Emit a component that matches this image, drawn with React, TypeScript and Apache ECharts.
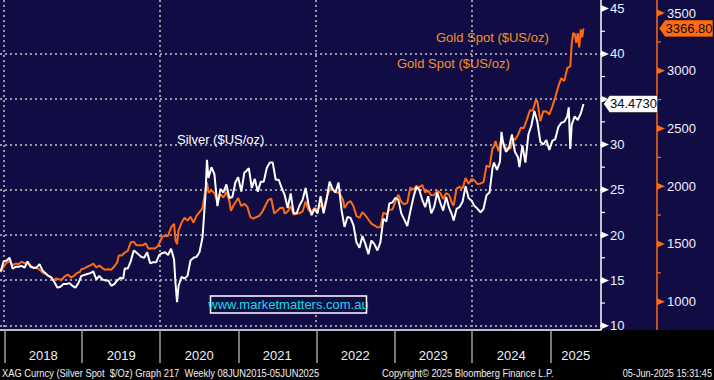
import { useEffect, useRef } from "react";
import * as echarts from "echarts";

// ---------- data ----------
const xRange: [string, string] = ["2017-12-12", "2025-08-26"];
const yearStarts = ["2018-01-01", "2019-01-01", "2020-01-01", "2021-01-01", "2022-01-01", "2023-01-01", "2024-01-01", "2025-01-01"];
const gridYears = ["2018-01-01", "2020-01-01", "2022-01-01", "2024-01-01"];
const silverTicks = [10, 15, 20, 25, 30, 35, 40, 45];
const silverGrid = [10, 15, 20, 25, 30, 35, 40];
const goldTicks = [1000, 1500, 2000, 2500, 3000, 3500];

const silver: [string, number][] = [
  ["2017-12-15", 16.0], ["2017-12-29", 17.1], ["2018-01-12", 17.2], ["2018-01-26", 17.5], ["2018-02-09", 16.3], ["2018-02-23", 16.5],
  ["2018-03-09", 16.5], ["2018-03-23", 16.6], ["2018-04-06", 16.4], ["2018-04-20", 17.1], ["2018-05-04", 16.5], ["2018-05-18", 16.4],
  ["2018-06-01", 16.4], ["2018-06-15", 16.8], ["2018-06-29", 16.1], ["2018-07-13", 15.8], ["2018-07-27", 15.5], ["2018-08-10", 15.3],
  ["2018-08-24", 14.8], ["2018-09-07", 14.2], ["2018-09-21", 14.3], ["2018-10-05", 14.6], ["2018-10-19", 14.6], ["2018-11-02", 14.7],
  ["2018-11-16", 14.4], ["2018-11-30", 14.2], ["2018-12-14", 14.7], ["2018-12-28", 15.5], ["2019-01-11", 15.6], ["2019-01-25", 15.7],
  ["2019-02-08", 15.8], ["2019-02-22", 16.0], ["2019-03-08", 15.1], ["2019-03-22", 15.5], ["2019-04-05", 15.1], ["2019-04-19", 15.0],
  ["2019-05-03", 15.0], ["2019-05-17", 14.4], ["2019-05-31", 14.6], ["2019-06-14", 15.0], ["2019-06-28", 15.3], ["2019-07-12", 15.2],
  ["2019-07-19", 16.3], ["2019-08-02", 16.3], ["2019-08-16", 17.1], ["2019-08-30", 18.3], ["2019-09-06", 18.2], ["2019-09-20", 17.9],
  ["2019-10-04", 17.6], ["2019-10-18", 17.5], ["2019-11-01", 18.1], ["2019-11-15", 16.9], ["2019-11-29", 17.0], ["2019-12-13", 17.0],
  ["2019-12-27", 17.8], ["2020-01-10", 18.0], ["2020-01-24", 18.1], ["2020-02-07", 17.8], ["2020-02-21", 18.5], ["2020-03-06", 17.3],
  ["2020-03-13", 14.6], ["2020-03-20", 12.6], ["2020-03-27", 14.4], ["2020-04-10", 15.4], ["2020-04-24", 15.2], ["2020-05-08", 15.5],
  ["2020-05-22", 17.2], ["2020-06-05", 17.5], ["2020-06-19", 17.6], ["2020-07-03", 18.1], ["2020-07-17", 19.7], ["2020-07-31", 24.4],
  ["2020-08-07", 28.3], ["2020-08-14", 26.3], ["2020-08-28", 27.5], ["2020-09-11", 26.7], ["2020-09-25", 23.2], ["2020-10-09", 25.1],
  ["2020-10-23", 24.7], ["2020-11-06", 25.6], ["2020-11-20", 24.1], ["2020-12-04", 24.2], ["2020-12-18", 25.8], ["2020-12-31", 26.4],
  ["2021-01-15", 24.8], ["2021-01-29", 26.9], ["2021-02-05", 27.0], ["2021-02-19", 27.4], ["2021-03-05", 25.2], ["2021-03-19", 26.2],
  ["2021-04-02", 24.8], ["2021-04-16", 25.9], ["2021-04-30", 25.9], ["2021-05-14", 27.4], ["2021-05-28", 28.0], ["2021-06-11", 28.0],
  ["2021-06-25", 26.1], ["2021-07-09", 26.1], ["2021-07-23", 25.2], ["2021-08-06", 24.4], ["2021-08-20", 23.0], ["2021-09-03", 24.6],
  ["2021-09-17", 22.4], ["2021-10-01", 22.4], ["2021-10-15", 23.3], ["2021-10-29", 23.9], ["2021-11-12", 25.2], ["2021-11-26", 23.3],
  ["2021-12-10", 22.2], ["2021-12-24", 22.9], ["2022-01-07", 22.4], ["2022-01-21", 24.3], ["2022-02-04", 22.4], ["2022-02-18", 23.9],
  ["2022-03-04", 25.9], ["2022-03-18", 25.1], ["2022-04-01", 24.7], ["2022-04-15", 25.8], ["2022-04-29", 22.8], ["2022-05-13", 20.9],
  ["2022-05-27", 22.0], ["2022-06-10", 21.9], ["2022-06-24", 21.1], ["2022-07-08", 19.2], ["2022-07-22", 18.6], ["2022-08-05", 19.9],
  ["2022-08-19", 19.0], ["2022-09-02", 17.9], ["2022-09-16", 19.4], ["2022-09-30", 19.0], ["2022-10-14", 18.3], ["2022-10-28", 19.2],
  ["2022-11-11", 21.8], ["2022-11-25", 21.5], ["2022-12-09", 23.5], ["2022-12-23", 23.6], ["2023-01-06", 24.1], ["2023-01-20", 23.9],
  ["2023-02-03", 22.4], ["2023-02-17", 21.7], ["2023-03-03", 21.0], ["2023-03-17", 22.6], ["2023-03-31", 24.1], ["2023-04-14", 25.3],
  ["2023-04-28", 25.0], ["2023-05-12", 23.9], ["2023-05-26", 23.1], ["2023-06-09", 24.3], ["2023-06-23", 22.4], ["2023-07-07", 23.1],
  ["2023-07-21", 24.7], ["2023-08-04", 23.6], ["2023-08-18", 22.7], ["2023-09-01", 24.2], ["2023-09-15", 23.0], ["2023-09-29", 22.2],
  ["2023-10-06", 21.6], ["2023-10-20", 22.9], ["2023-11-03", 23.1], ["2023-11-17", 23.7], ["2023-12-01", 25.4], ["2023-12-15", 24.1],
  ["2023-12-29", 23.8], ["2024-01-12", 23.2], ["2024-01-26", 22.9], ["2024-02-09", 22.5], ["2024-02-23", 22.9], ["2024-03-08", 24.4],
  ["2024-03-22", 24.7], ["2024-04-05", 27.4], ["2024-04-12", 28.0], ["2024-04-26", 27.2], ["2024-05-10", 28.1], ["2024-05-17", 31.4],
  ["2024-05-24", 30.3], ["2024-06-07", 29.2], ["2024-06-21", 29.6], ["2024-07-05", 31.1], ["2024-07-19", 29.2], ["2024-08-02", 28.6],
  ["2024-08-09", 27.5], ["2024-08-23", 29.9], ["2024-09-06", 28.0], ["2024-09-20", 31.1], ["2024-10-04", 32.1], ["2024-10-18", 33.7],
  ["2024-11-01", 32.5], ["2024-11-15", 30.3], ["2024-11-29", 30.0], ["2024-12-13", 30.5], ["2024-12-27", 29.4], ["2025-01-10", 30.4],
  ["2025-01-24", 30.6], ["2025-02-07", 31.9], ["2025-02-21", 32.4], ["2025-03-07", 32.5], ["2025-03-21", 33.1], ["2025-03-28", 34.1],
  ["2025-04-04", 29.5], ["2025-04-11", 32.2], ["2025-04-25", 33.1], ["2025-05-09", 32.7], ["2025-05-23", 33.4], ["2025-06-05", 34.473],
];

const gold: [string, number][] = [
  ["2017-12-15", 1257], ["2017-12-29", 1303], ["2018-01-12", 1338], ["2018-01-26", 1350], ["2018-02-09", 1316], ["2018-02-23", 1330],
  ["2018-03-09", 1324], ["2018-03-23", 1347], ["2018-04-06", 1332], ["2018-04-20", 1336], ["2018-05-04", 1314], ["2018-05-18", 1291],
  ["2018-06-01", 1294], ["2018-06-15", 1278], ["2018-06-29", 1252], ["2018-07-13", 1241], ["2018-07-27", 1223], ["2018-08-10", 1212],
  ["2018-08-17", 1184], ["2018-08-31", 1201], ["2018-09-14", 1194], ["2018-09-28", 1192], ["2018-10-12", 1222], ["2018-10-26", 1235],
  ["2018-11-09", 1209], ["2018-11-23", 1223], ["2018-12-07", 1248], ["2018-12-21", 1258], ["2018-12-28", 1281], ["2019-01-11", 1288],
  ["2019-01-25", 1303], ["2019-02-08", 1314], ["2019-02-22", 1329], ["2019-03-08", 1298], ["2019-03-22", 1313], ["2019-04-05", 1291],
  ["2019-04-19", 1276], ["2019-05-03", 1281], ["2019-05-17", 1277], ["2019-05-31", 1305], ["2019-06-14", 1341], ["2019-06-21", 1399],
  ["2019-07-05", 1400], ["2019-07-19", 1426], ["2019-08-02", 1440], ["2019-08-16", 1513], ["2019-08-30", 1520], ["2019-09-13", 1488],
  ["2019-09-27", 1489], ["2019-10-11", 1488], ["2019-10-25", 1505], ["2019-11-08", 1459], ["2019-11-22", 1462], ["2019-12-06", 1460],
  ["2019-12-20", 1478], ["2019-12-31", 1517], ["2020-01-10", 1562], ["2020-01-24", 1571], ["2020-02-07", 1570], ["2020-02-21", 1643],
  ["2020-03-06", 1674], ["2020-03-13", 1530], ["2020-03-20", 1498], ["2020-03-27", 1618], ["2020-04-10", 1683], ["2020-04-24", 1727],
  ["2020-05-08", 1702], ["2020-05-22", 1735], ["2020-06-05", 1685], ["2020-06-19", 1743], ["2020-07-03", 1775], ["2020-07-17", 1810],
  ["2020-07-31", 1975], ["2020-08-07", 2035], ["2020-08-14", 1944], ["2020-08-28", 1964], ["2020-09-11", 1941], ["2020-09-25", 1862],
  ["2020-10-09", 1930], ["2020-10-23", 1902], ["2020-11-06", 1951], ["2020-11-20", 1872], ["2020-11-27", 1788], ["2020-12-11", 1839],
  ["2020-12-24", 1877], ["2020-12-31", 1898], ["2021-01-15", 1828], ["2021-01-29", 1848], ["2021-02-12", 1823], ["2021-02-26", 1734],
  ["2021-03-12", 1719], ["2021-03-26", 1733], ["2021-04-09", 1744], ["2021-04-23", 1777], ["2021-05-07", 1831], ["2021-05-21", 1881],
  ["2021-06-04", 1891], ["2021-06-18", 1764], ["2021-07-02", 1787], ["2021-07-16", 1812], ["2021-07-30", 1814], ["2021-08-06", 1763],
  ["2021-08-20", 1781], ["2021-09-03", 1827], ["2021-09-17", 1754], ["2021-10-01", 1761], ["2021-10-15", 1768], ["2021-10-29", 1783],
  ["2021-11-12", 1868], ["2021-11-26", 1792], ["2021-12-10", 1783], ["2021-12-24", 1811], ["2022-01-07", 1797], ["2022-01-21", 1835],
  ["2022-02-04", 1808], ["2022-02-18", 1898], ["2022-03-04", 1970], ["2022-03-11", 1988], ["2022-03-25", 1958], ["2022-04-08", 1946],
  ["2022-04-22", 1932], ["2022-05-06", 1883], ["2022-05-13", 1811], ["2022-05-27", 1853], ["2022-06-10", 1871], ["2022-06-24", 1827],
  ["2022-07-08", 1742], ["2022-07-22", 1727], ["2022-08-05", 1775], ["2022-08-19", 1747], ["2022-09-02", 1712], ["2022-09-16", 1675],
  ["2022-09-30", 1661], ["2022-10-14", 1644], ["2022-10-28", 1645], ["2022-11-11", 1771], ["2022-11-25", 1755], ["2022-12-09", 1797],
  ["2022-12-23", 1798], ["2023-01-06", 1865], ["2023-01-20", 1926], ["2023-02-03", 1865], ["2023-02-17", 1842], ["2023-03-03", 1856],
  ["2023-03-17", 1989], ["2023-03-31", 1969], ["2023-04-14", 2004], ["2023-04-28", 1990], ["2023-05-12", 2011], ["2023-05-26", 1946],
  ["2023-06-09", 1961], ["2023-06-23", 1921], ["2023-07-07", 1925], ["2023-07-21", 1962], ["2023-08-04", 1943], ["2023-08-18", 1889],
  ["2023-09-01", 1940], ["2023-09-15", 1924], ["2023-09-29", 1849], ["2023-10-06", 1833], ["2023-10-20", 1981], ["2023-11-03", 1993],
  ["2023-11-17", 1981], ["2023-12-01", 2072], ["2023-12-15", 2020], ["2023-12-29", 2063], ["2024-01-12", 2049], ["2024-01-26", 2018],
  ["2024-02-09", 2024], ["2024-02-23", 2035], ["2024-03-08", 2179], ["2024-03-22", 2166], ["2024-04-05", 2329], ["2024-04-12", 2344],
  ["2024-04-19", 2392], ["2024-05-03", 2302], ["2024-05-17", 2415], ["2024-05-31", 2327], ["2024-06-14", 2333], ["2024-06-28", 2326],
  ["2024-07-12", 2411], ["2024-07-19", 2400], ["2024-08-02", 2443], ["2024-08-16", 2507], ["2024-08-30", 2503], ["2024-09-13", 2577],
  ["2024-09-27", 2658], ["2024-10-11", 2656], ["2024-10-25", 2747], ["2024-11-01", 2736], ["2024-11-15", 2563], ["2024-11-29", 2650],
  ["2024-12-13", 2648], ["2024-12-27", 2621], ["2025-01-10", 2689], ["2025-01-24", 2770], ["2025-02-07", 2861], ["2025-02-21", 2936],
  ["2025-03-07", 2910], ["2025-03-21", 3022], ["2025-04-04", 3037], ["2025-04-11", 3237], ["2025-04-18", 3327], ["2025-04-25", 3319],
  ["2025-05-02", 3241], ["2025-05-09", 3325], ["2025-05-16", 3203], ["2025-05-23", 3357], ["2025-05-30", 3289], ["2025-06-05", 3366.8],
];

const silverLabel = "Silver ($US/oz)";
const goldLabel = "Gold Spot ($US/oz)";
const silverLast = "34.4730";
const goldLast = "3366.80";
const watermark = "www.marketmatters.com.au";
const footerLeft = "XAG Curncy (Silver Spot  $/Oz) Graph 217  Weekly 08JUN2015-05JUN2025";
const footerMid = "Copyright\u00a9 2025 Bloomberg Finance L.P.";
const footerRight = "05-Jun-2025 15:31:45";

// ---------- styles ----------
const NAVY = "#110d44";
const ORANGE = "#ff6a13";
const GOLD_TEXT = "#f7901e";
const LABEL = "#eef2ff";
const GRID = "#9797a8";
const FONT = '"Liberation Sans", Arial, sans-serif';
const AXIS_GAP = 4.3;
const GOLD_OFFSET = 56;

const toTs = (s: string) => {
  const [y, m, d] = s.split("-").map(Number);
  return new Date(y, m - 1, d).getTime();
};

export default function App() {
  const ref = useRef<HTMLDivElement>(null);

  useEffect(() => {
    if (!ref.current) return;
    const chart = echarts.init(ref.current, undefined, { renderer: "svg" });
    const xMin = toTs(xRange[0]);
    const xMax = toTs(xRange[1]);
    const starts = yearStarts.map(toTs);
    const labelPos = starts.map((s, i) => {
      const e = i + 1 < starts.length ? starts[i + 1] : new Date(new Date(s).getFullYear() + 1, 0, 1).getTime();
      return (Math.max(s, xMin) + Math.min(e, xMax)) / 2;
    });
    const lastSilver = silver[silver.length - 1][1];

    chart.setOption({
      animation: false,
      backgroundColor: "#000000",
      grid: [
        { left: 0, right: 113, top: 8.6, bottom: 54.3 },
        { left: 0, right: 113, top: 13, bottom: 78.3 },
      ],
      xAxis: [
        {
          type: "value", gridIndex: 0, min: xMin, max: xMax, offset: AXIS_GAP,
          axisLine: { show: true, lineStyle: { color: "#ffffff", width: 1.5 } },
          axisTick: { show: true, customValues: starts, length: 33, lineStyle: { color: "#a0a0a0", width: 1.5 } },
          axisLabel: {
            customValues: labelPos, color: LABEL, fontSize: 13, fontFamily: FONT, margin: 19,
            formatter: (v: number) => String(new Date(v).getFullYear()),
          },
          splitLine: { show: false },
        },
        { type: "value", gridIndex: 1, min: xMin, max: xMax, show: false },
      ],
      yAxis: [
        {
          type: "value", gridIndex: 0, position: "right", min: 10, max: 45, interval: 5,
          axisLine: { show: false }, axisTick: { show: false }, splitLine: { show: false },
          axisLabel: {
            color: LABEL, fontSize: 13, fontFamily: FONT, margin: 9,
            // the last-value tag covers the label nearest to it
            formatter: (v: number) => (Math.abs(v - lastSilver) < 1.5 ? "" : String(v)),
          },
        },
        {
          type: "value", gridIndex: 1, position: "right", offset: GOLD_OFFSET, min: 1000, max: 3500, interval: 500,
          axisLine: { show: false }, axisTick: { show: false }, splitLine: { show: false },
          axisLabel: { color: LABEL, fontSize: 13, fontFamily: FONT, margin: 10, formatter: (v: number) => String(v) },
        },
      ],
      series: [
        {
          type: "line", name: goldLabel, xAxisIndex: 1, yAxisIndex: 1, showSymbol: false, z: 3,
          lineStyle: { color: ORANGE, width: 2 }, itemStyle: { color: ORANGE },
          data: gold.map(([d, v]) => [toTs(d), v]),
        },
        {
          type: "line", name: silverLabel, xAxisIndex: 0, yAxisIndex: 0, showSymbol: false, z: 4,
          lineStyle: { color: "#ffffff", width: 2 }, itemStyle: { color: "#ffffff" },
          data: silver.map(([d, v]) => [toTs(d), v]),
        },
      ],
    });

    const px = (idx: number, v: number) => chart.convertToPixel({ xAxisIndex: idx }, v) as number;
    const py = (idx: number, v: number) => chart.convertToPixel({ yAxisIndex: idx }, v) as number;
    const xR = px(0, xMax);
    const gx = xR + GOLD_OFFSET;
    const bottom = py(0, silverTicks[0]) + AXIS_GAP;
    const els: any[] = [];
    els.push({ type: "rect", silent: true, z: -100, shape: { x: 0, y: 0, width: 714, height: bottom }, style: { fill: NAVY } });
    silverGrid.forEach((v) => {
      const y = Math.round(py(0, v));
      els.push({ type: "line", silent: true, z: 1, shape: { x1: 0, y1: y, x2: xR, y2: y }, style: { stroke: GRID, lineWidth: 2, lineDash: [2, 3] } });
    });
    gridYears.forEach((d) => {
      const x = Math.round(px(0, toTs(d)));
      els.push({ type: "line", silent: true, z: 1, shape: { x1: x, y1: 0, x2: x, y2: bottom }, style: { stroke: GRID, lineWidth: 2, lineDash: [2, 3] } });
    });
    els.push({ type: "line", silent: true, z: 5, shape: { x1: xR, y1: 0, x2: xR, y2: bottom }, style: { stroke: "#ffffff", lineWidth: 1.5 } });
    els.push({ type: "line", silent: true, z: 5, shape: { x1: gx, y1: 0, x2: gx, y2: bottom }, style: { stroke: ORANGE, lineWidth: 1.5 } });
    silverTicks.forEach((v, i) => {
      const y = py(0, v);
      els.push({ type: "polygon", silent: true, z: 6, shape: { points: [[xR, y - 3.5], [xR + 8, y], [xR, y + 3.5]] }, style: { fill: "#ffffff" } });
      if (i + 1 < silverTicks.length) {
        const ym = py(0, (v + silverTicks[i + 1]) / 2);
        els.push({ type: "line", silent: true, z: 6, shape: { x1: xR, y1: ym, x2: xR + 4, y2: ym }, style: { stroke: "#ffffff", lineWidth: 1.2 } });
      }
    });
    goldTicks.forEach((v, i) => {
      const y = py(1, v);
      els.push({ type: "polygon", silent: true, z: 6, shape: { points: [[gx, y - 3.5], [gx + 8, y], [gx, y + 3.5]] }, style: { fill: ORANGE } });
      if (i + 1 < goldTicks.length) {
        const ym = py(1, (v + goldTicks[i + 1]) / 2);
        els.push({ type: "line", silent: true, z: 6, shape: { x1: gx, y1: ym, x2: gx + 4, y2: ym }, style: { stroke: ORANGE, lineWidth: 1.2 } });
      }
    });
    // last value tags
    const sY = py(0, lastSilver);
    const gY = py(1, gold[gold.length - 1][1]);
    const tag = (x: number, y: number, w: number, fill: string, text: string) => {
      els.push({
        type: "polygon", silent: true, z: 20,
        shape: { points: [[x, y], [x + 6, y - 8.5], [x + w, y - 8.5], [x + w, y + 8.5], [x + 6, y + 8.5]] },
        style: { fill, stroke: "#000000", lineWidth: 0.5 },
      });
      els.push({ type: "text", silent: true, z: 21, x: x + 6 + (w - 6) / 2, y, style: { text, fill: "#0a0a0a", fontSize: 13, fontFamily: FONT, align: "center", verticalAlign: "middle" } });
    };
    tag(xR + 2.5, sY, 54, "#ffffff", silverLast);
    tag(gx + 2, gY, 54, ORANGE, goldLast);
    // series labels
    const txt = (x: number, y: number, text: string, fill: string, size = 13, align = "left", scaleX = 1) =>
      els.push({ type: "text", silent: true, z: 30, x, y, scaleX, style: { text, fill, fontSize: size, fontFamily: FONT, align, verticalAlign: "middle" } });
    txt(436, 37, goldLabel, GOLD_TEXT);
    txt(397, 63.5, goldLabel, GOLD_TEXT);
    txt(177, 139, silverLabel, "#ffffff");
    // watermark
    els.push({ type: "rect", silent: true, z: 30, shape: { x: 210.5, y: 296, width: 156, height: 17 }, style: { fill: NAVY, stroke: "#ffffff", lineWidth: 1.5 } });
    els.push({ type: "text", silent: true, z: 31, x: 288.5, y: 304.8, style: { text: watermark, fill: "#16dbe6", fontSize: 13, fontFamily: FONT, align: "center", verticalAlign: "middle" } });
    // footer
    txt(2, 373, footerLeft, "#f0f0f0", 10.5, "left", 0.89);
    txt(382, 373, footerMid, "#f0f0f0", 10.5, "left", 0.89);
    txt(712, 373, footerRight, "#f0f0f0", 10.5, "right", 0.87);

    chart.setOption({ graphic: { elements: els } });

    return () => chart.dispose();
  }, []);

  return <div ref={ref} style={{ position: "fixed", left: 0, top: 0, width: 714, height: 380 }} />;
}
